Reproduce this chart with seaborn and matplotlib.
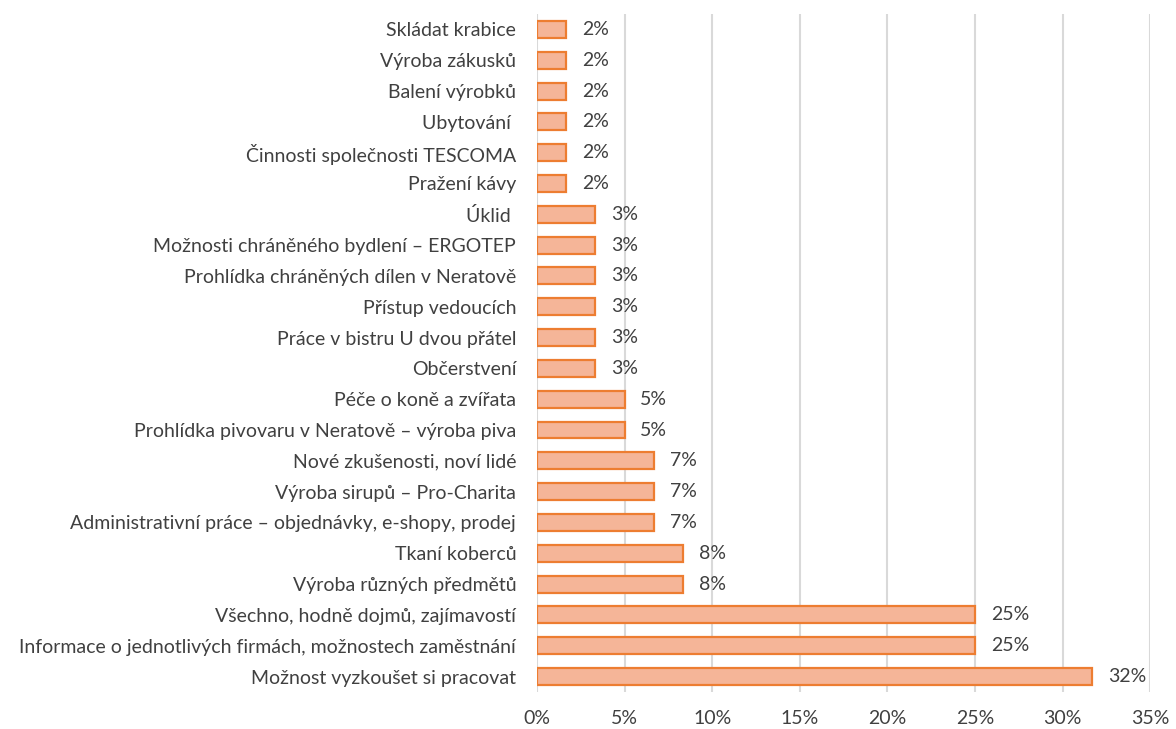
import numpy as np
import pandas as pd
import matplotlib
matplotlib.use("Agg")
import matplotlib.pyplot as plt
import seaborn as sns

# categories top to bottom, values in percent
categories = [
    "Skládat krabice",
    "Výroba zákusků",
    "Balení výrobků",
    "Ubytování ",
    "Činnosti společnosti TESCOMA",
    "Pražení kávy",
    "Úklid ",
    "Možnosti chráněného bydlení – ERGOTEP",
    "Prohlídka chráněných dílen v Neratově",
    "Přístup vedoucích",
    "Práce v bistru U dvou přátel",
    "Občerstvení",
    "Péče o koně a zvířata",
    "Prohlídka pivovaru v Neratově – výroba piva",
    "Nové zkušenosti, noví lidé",
    "Výroba sirupů – Pro-Charita",
    "Administrativní práce – objednávky, e-shopy, prodej",
    "Tkaní koberců",
    "Výroba různých předmětů",
    "Všechno, hodně dojmů, zajímavostí",
    "Informace o jednotlivých firmách, možnostech zaměstnání",
    "Možnost vyzkoušet si pracovat",
]
values = [1.67, 1.67, 1.67, 1.67, 1.67, 1.67,
          3.33, 3.33, 3.33, 3.33, 3.33, 3.33,
          5.0, 5.0, 6.67, 6.67, 6.67, 8.33, 8.33,
          25.0, 25.0, 31.67]
x_ticks = [0, 5, 10, 15, 20, 25, 30, 35]

df = pd.DataFrame({"cat": categories, "val": values})

sns.set_style("white")
plt.rcParams['font.family'] = ['Lato', 'DejaVu Sans']

fig = plt.figure(figsize=(11.76, 7.29), dpi=100)
ax = fig.add_axes([0.4566, 0.0508, 0.5215, 0.93])

sns.barplot(data=df, x="val", y="cat", orient="h", ax=ax,
            color="#F5B598", edgecolor="#ED7D31", linewidth=1.6,
            width=0.55, saturation=1)

for i, v in enumerate(values):
    ax.text(v + 0.9, i, f"{v:.0f}%", va="center", ha="left",
            fontsize=14, color="#404040")

ax.set_xlim(0, 35)
ax.set_ylim(len(categories) - 0.5, -0.5)
ax.set_xticks(x_ticks)
ax.set_xticklabels([f"{t}%" for t in x_ticks])
ax.xaxis.grid(True, color="#D9D9D9", linewidth=1.5)
ax.set_axisbelow(True)
ax.set_xlabel("")
ax.set_ylabel("")
for s in ax.spines.values():
    s.set_visible(False)
ax.tick_params(axis="both", length=0, labelsize=14, colors="#404040")
ax.tick_params(axis="y", pad=15)
ax.tick_params(axis="x", pad=13)

fig.savefig("out.png", dpi=100)
